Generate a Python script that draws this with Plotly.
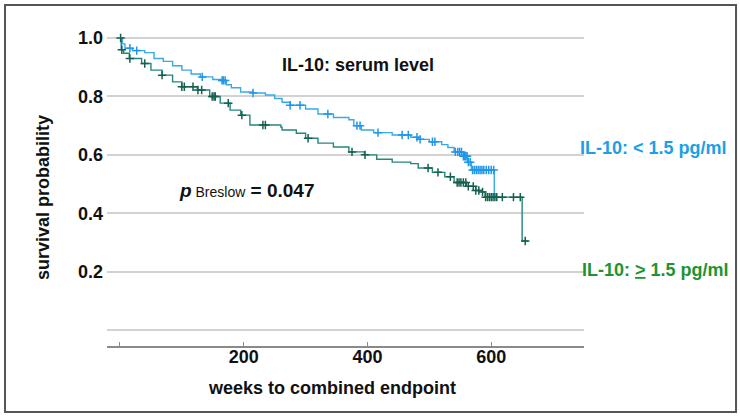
import numpy as np
import plotly.graph_objects as go

# ---- data ----
low_t = [0, 4, 8, 20, 40, 55, 70, 85, 100, 115, 130, 150, 165, 172, 180, 195, 215, 235, 250, 262,
         275, 300, 320, 345, 370, 378, 390, 410, 440, 470, 482, 500, 520, 530, 540, 555, 562, 568, 605]
low_s = [1.0, 0.98, 0.965, 0.957, 0.95, 0.93, 0.92, 0.905, 0.89, 0.877, 0.867, 0.858, 0.855, 0.84,
         0.83, 0.815, 0.812, 0.805, 0.793, 0.78, 0.77, 0.757, 0.74, 0.728, 0.72, 0.70, 0.685, 0.676,
         0.668, 0.66, 0.653, 0.645, 0.635, 0.625, 0.61, 0.595, 0.575, 0.548, 0.455]
low_cens = [16, 27, 133, 165, 167, 170, 215, 275, 291, 336, 383, 388, 417, 456, 466, 480, 485, 505,
            509, 542, 546, 549, 552, 555, 557, 559, 561, 563, 566, 570, 573, 576, 579, 582, 585, 588,
            592, 596, 600, 604]

high_t = [0, 2, 6, 15, 35, 50, 68, 85, 100, 125, 145, 162, 178, 195, 210, 260, 262, 285, 300, 320,
          345, 370, 395, 415, 440, 470, 482, 505, 525, 540, 560, 575, 585, 590, 650, 660]
high_s = [1.0, 0.96, 0.948, 0.93, 0.913, 0.89, 0.873, 0.85, 0.833, 0.822, 0.80, 0.777, 0.753, 0.736,
          0.702, 0.695, 0.685, 0.674, 0.657, 0.64, 0.627, 0.61, 0.60, 0.585, 0.575, 0.57, 0.555, 0.54,
          0.525, 0.505, 0.492, 0.478, 0.473, 0.455, 0.305, 0.305]
high_cens = [1, 3, 16, 40, 68, 100, 104, 118, 126, 132, 149, 152, 154, 175, 197, 231, 235, 304, 375,
             396, 498, 514, 534, 545, 548, 551, 555, 559, 563, 571, 575, 580, 586, 591, 594, 597, 600,
             603, 606, 609, 618, 636, 647, 655]

x_ticks = [0, 200, 400, 600]
x_ticktext = ["", "<b>200</b>", "<b>400</b>", "<b>600</b>"]
y_ticks = [0.0, 0.2, 0.4, 0.6, 0.8, 1.0]
y_ticktext = ["", "<b>0.2</b>", "<b>0.4</b>", "<b>0.6</b>", "<b>0.8</b>", "<b>1.0</b>"]


def step_at(times, surv, pts):
    idx = np.searchsorted(np.array(times), np.array(pts), side="right") - 1
    return [surv[i] for i in idx]


BLUE_LINE = "#38aae6"
BLUE_MARK = "#1f96ea"
GREEN_LINE = "#23877f"
GREEN_MARK = "#15604f"

FONT = "Liberation Sans, Arial, sans-serif"

fig = go.Figure()
fig.add_trace(go.Scatter(x=low_t, y=low_s, mode="lines", line=dict(color=BLUE_LINE, width=1.4, shape="hv"),
                         hoverinfo="skip", showlegend=False))
fig.add_trace(go.Scatter(x=high_t, y=high_s, mode="lines", line=dict(color=GREEN_LINE, width=1.4, shape="hv"),
                         hoverinfo="skip", showlegend=False))
fig.add_trace(go.Scatter(x=low_cens, y=step_at(low_t, low_s, low_cens), mode="markers",
                         marker=dict(symbol="cross-thin", size=6, line=dict(color=BLUE_MARK, width=1.5)),
                         hoverinfo="skip", showlegend=False))
fig.add_trace(go.Scatter(x=high_cens, y=step_at(high_t, high_s, high_cens), mode="markers",
                         marker=dict(symbol="cross-thin", size=6, line=dict(color=GREEN_MARK, width=1.5)),
                         hoverinfo="skip", showlegend=False))

fig.update_layout(
    width=740, height=420,
    margin=dict(l=107, r=156, t=29, b=74),
    paper_bgcolor="white", plot_bgcolor="white",
    font=dict(family=FONT, size=16, color="#111"),
    xaxis=dict(range=[-21, 750], tickvals=x_ticks, ticktext=x_ticktext, showgrid=False, zeroline=False,
               showline=True, linecolor="#8a8a8a", linewidth=1.5, ticks="inside", ticklen=4,
               tickcolor="#8a8a8a", ticklabelstandoff=-6, automargin=False,
               tickfont=dict(family=FONT, size=18, color="#111")),
    yaxis=dict(range=[-0.0548, 1.031], tickvals=y_ticks, ticktext=y_ticktext, showgrid=True,
               gridcolor="#d2d2d2", gridwidth=1.5, zeroline=False, showline=False, ticks="",
               ticklabelstandoff=3, automargin=False, tickfont=dict(family=FONT, size=18, color="#111")),
    shapes=[dict(type="rect", xref="paper", yref="paper", x0=-0.2138, x1=1.3187, y0=-0.2082, y1=1.0757,
                 line=dict(color="#555", width=2), fillcolor="rgba(0,0,0,0)", layer="above")],
    annotations=[
        dict(text="<b>IL-10: serum level</b>", xref="paper", yref="paper", x=0.526, y=0.886,
             xanchor="center", yanchor="middle", showarrow=False, font=dict(size=18, color="#111")),
        dict(text="<b><i>p</i></b><span style='font-size:14px'> Breslow</span><b> = 0.047</b>",
             xref="paper", yref="paper", x=0.147, y=0.492, xanchor="left", yanchor="middle",
             showarrow=False, font=dict(size=19, color="#111")),
        dict(text="<b>IL-10: &lt; 1.5 pg/ml</b>", xref="paper", yref="paper", x=0.987, y=0.625,
             xanchor="left", yanchor="middle", showarrow=False, font=dict(size=18, color="#1aa0e8")),
        dict(text="<b>IL-10: <u>&gt;</u> 1.5 pg/ml</b>", xref="paper", yref="paper", x=0.992, y=0.240,
             xanchor="left", yanchor="middle", showarrow=False, font=dict(size=18, color="#1e9430")),
        dict(text="<b>survival probability</b>", xref="paper", yref="paper", x=-0.134, y=0.467,
             xanchor="center", yanchor="middle", textangle=-90, showarrow=False,
             font=dict(size=18, color="#111")),
        dict(text="<b>weeks to combined endpoint</b>", xref="paper", yref="paper", x=0.472, y=-0.1325,
             xanchor="center", yanchor="middle", showarrow=False, font=dict(size=18, color="#111")),
    ],
)

fig.write_html("out.html", config={"displayModeBar": False},
               post_script="document.body.style.margin='0px';document.body.style.overflow='hidden';")
